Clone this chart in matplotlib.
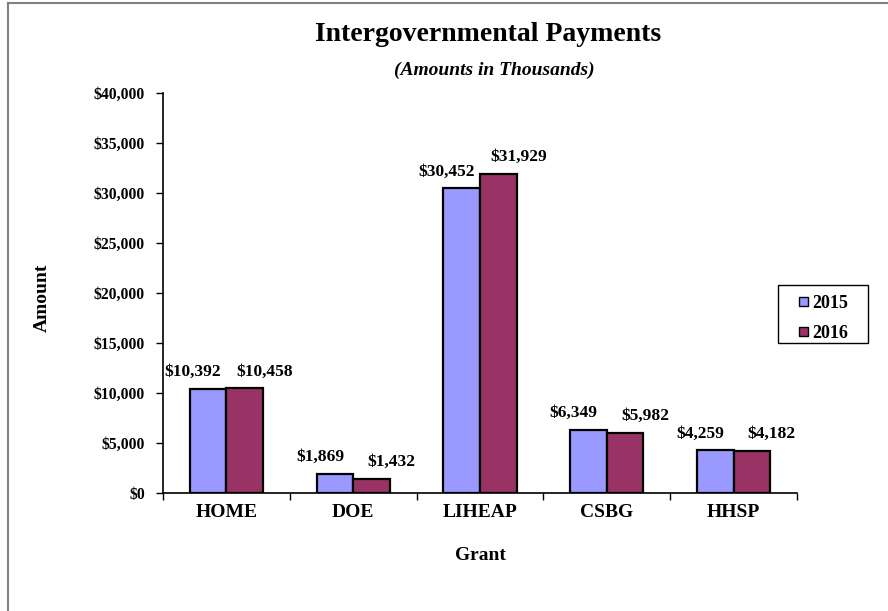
import matplotlib
matplotlib.use("Agg")
import matplotlib.pyplot as plt
import numpy as np
from matplotlib.ticker import FuncFormatter, FixedLocator
from matplotlib.lines import Line2D
from matplotlib.patches import Rectangle

categories = ["HOME", "DOE", "LIHEAP", "CSBG", "HHSP"]
values_2015 = [10392, 1869, 30452, 6349, 4259]
values_2016 = [10458, 1432, 31929, 5982, 4182]
series_names = ["2015", "2016"]
colors = ["#9999FF", "#993366"]

plt.rcParams['font.family'] = ['Liberation Serif', 'DejaVu Serif']

fig = plt.figure(figsize=(8.88, 6.11), dpi=100)
W, H = 888, 611
PT = 72 / 100.0  # points per pixel
ax = fig.add_axes([163 / W, 1 - 493 / H, (797 - 163) / W, (493 - 93) / H])

x = np.arange(len(categories))
bw = 0.288
b1 = ax.bar(x - bw / 2, values_2015, bw, color=colors[0], edgecolor="black", linewidth=1.6, label=series_names[0])
b2 = ax.bar(x + bw / 2, values_2016, bw, color=colors[1], edgecolor="black", linewidth=1.6, label=series_names[1])

for bars, dx in ((b1, -15), (b2, 20)):
    for r in bars:
        v = r.get_height()
        ax.annotate(f"${v:,.0f}", (r.get_x() + r.get_width() / 2, v), xytext=(dx * PT, 17 * PT),
                    textcoords="offset points", ha="center", va="center",
                    fontsize=12.5, fontweight="bold")

ax.set_xlim(-0.5, len(categories) - 0.5)
ax.set_ylim(0, 40000)
ax.set_yticks(np.arange(0, 40001, 5000))
ax.yaxis.set_major_formatter(FuncFormatter(lambda v, p: f"${v:,.0f}"))
ax.xaxis.set_major_locator(FixedLocator(np.arange(-0.5, len(categories), 1.0)))
ax.xaxis.set_major_formatter(FuncFormatter(lambda v, p: ""))
ax.xaxis.set_minor_locator(FixedLocator(x))
ax.set_xticklabels(categories, minor=True)
ax.tick_params(axis="x", which="minor", length=0, pad=8, labelsize=14)
ax.tick_params(axis="x", which="major", length=5, direction="out", width=1)
ax.tick_params(axis="y", length=5, direction="out", width=1, labelsize=11.3, pad=8)
for lab in ax.get_xticklabels(minor=True) + ax.get_yticklabels():
    lab.set_fontweight("bold")

for s in ("top", "right"):
    ax.spines[s].set_visible(False)
for s in ("left", "bottom"):
    ax.spines[s].set_linewidth(1.2)

fig.text(488 / W, 1 - 41 / H, "Intergovernmental Payments", ha="center", va="baseline",
         fontsize=20, fontweight="bold")
fig.text(494 / W, 1 - 75 / H, "(Amounts in Thousands)", ha="center", va="baseline",
         fontsize=14, fontweight="bold", style="italic")
fig.text(480 / W, 1 - 556 / H, "Grant", ha="center", va="center", fontsize=14, fontweight="bold")
fig.text(42 / W, 1 - 298 / H, "Amount", ha="center", va="center", rotation=90,
         fontsize=14, fontweight="bold")

# legend drawn as a box with swatches
fig.patches.append(Rectangle((778 / W, 1 - 343 / H), 90 / W, 58 / H, transform=fig.transFigure,
                             fill=False, edgecolor="black", linewidth=1.0))
for i, (name, c) in enumerate(zip(series_names, colors)):
    yc = 301 + 30 * i
    fig.patches.append(Rectangle((799 / W, 1 - (yc + 4.5) / H), 9 / W, 9 / H,
                                 transform=fig.transFigure, facecolor=c,
                                 edgecolor="black", linewidth=1.0))
    fig.text(812 / W, 1 - yc / H, name, ha="left", va="center_baseline",
             fontsize=13, fontweight="bold")

fig.add_artist(Line2D([8 / W, 8 / W], [0, 1 - 3 / H], transform=fig.transFigure,
                      color="#808080", linewidth=1.5))
fig.add_artist(Line2D([8 / W, 1], [1 - 3 / H, 1 - 3 / H], transform=fig.transFigure,
                      color="#808080", linewidth=1.5))

fig.savefig("out.png", dpi=100)
